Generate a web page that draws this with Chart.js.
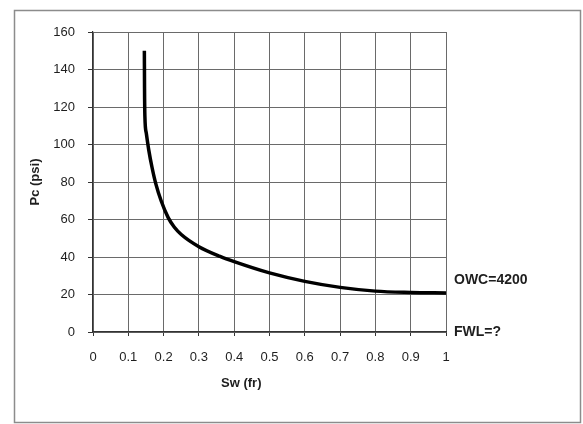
<!DOCTYPE html>
<html>
<head>
<meta charset="utf-8">
<script src="https://cdn.jsdelivr.net/npm/chart.js@4/dist/chart.umd.min.js"></script>
<style>
    html, body { margin: 0; padding: 0; background: #ffffff; }
    #wrap { width: 583px; height: 424px; }
</style>
</head>
<body>
<div id="wrap"><canvas id="pcChart" width="583" height="424"></canvas></div>
<script>
// Capillary pressure curve, Pc vs Sw

const swValues = [0.1455, 0.146, 0.147, 0.151, 0.158, 0.167, 0.178, 0.193, 0.213, 0.23, 0.25,
    0.30, 0.36, 0.40, 0.50, 0.60, 0.70, 0.80, 0.90, 1.00];
const pcValues = [150, 130, 115, 106, 97, 88, 79, 70, 61, 56, 52,
    45.5, 40.3, 37.5, 31.5, 27, 23.8, 21.8, 21.1, 20.8];

const xTickLabels = ['0', '0.1', '0.2', '0.3', '0.4', '0.5', '0.6', '0.7', '0.8', '0.9', '1'];
const yTickLabels = ['0', '20', '40', '60', '80', '100', '120', '140', '160'];

const sideLabels = ['OWC=4200', 'FWL=?'];
const sideLabelValues = [27.5, 0];

const FONT = "'Liberation Sans', Arial, sans-serif";
const GRID_COLOR = '#6a6a6a';
const TEXT_COLOR = '#1e1e1e';

const framePlugin = {
    id: 'frame',
    beforeDraw(chart) {
        const ctx = chart.ctx;
        ctx.save();
        ctx.fillStyle = '#ffffff';
        ctx.fillRect(0, 0, chart.width, chart.height);
        ctx.strokeStyle = '#8c8c8c';
        ctx.lineWidth = 1.5;
        ctx.strokeRect(14.5, 10.5, 566, 412);
        ctx.restore();
    },
    afterDraw(chart) {
        const ctx = chart.ctx;
        const area = chart.chartArea;
        const yScale = chart.scales.y;
        const xScale = chart.scales.x;
        ctx.save();
        ctx.fillStyle = TEXT_COLOR;
        ctx.font = 'bold 14px ' + FONT;
        ctx.textAlign = 'left';
        ctx.textBaseline = 'middle';
        sideLabels.forEach((txt, i) => {
            ctx.fillText(txt, area.right + 8, yScale.getPixelForValue(sideLabelValues[i]));
        });
        // x axis title sits a bit left of centre in the original
        ctx.font = 'bold 13px ' + FONT;
        ctx.textAlign = 'center';
        ctx.fillText('Sw (fr)', xScale.getPixelForValue(0.42), area.bottom + 51);
        ctx.restore();
    }
};

function createPcChart() {
    const ctx = document.getElementById('pcChart');
    if (!ctx) return;

    new Chart(ctx.getContext('2d'), {
        type: 'line',
        data: {
            datasets: [{
                label: 'Pc',
                data: swValues.map((sw, i) => ({ x: sw, y: pcValues[i] })),
                borderColor: '#000000',
                borderWidth: 3.5,
                pointRadius: 0,
                fill: false,
                cubicInterpolationMode: 'monotone'
            }]
        },
        options: {
            responsive: false,
            animation: false,
            devicePixelRatio: 1,
            layout: {
                padding: { left: 0, top: 32, right: 137, bottom: 0 }
            },
            plugins: {
                legend: { display: false },
                tooltip: { enabled: false }
            },
            scales: {
                x: {
                    type: 'linear',
                    min: 0,
                    max: 1,
                    afterFit(scale) { scale.height = 92; },
                    border: { color: '#333333', width: 1.2 },
                    grid: {
                        color: GRID_COLOR,
                        lineWidth: 1,
                        drawTicks: true,
                        tickLength: 4,
                        tickColor: '#333333'
                    },
                    ticks: {
                        stepSize: 0.1,
                        padding: 14,
                        maxRotation: 0,
                        autoSkip: false,
                        color: TEXT_COLOR,
                        font: { family: FONT, size: 13 },
                        callback: function(value, index) {
                            return xTickLabels[index];
                        }
                    }
                },
                y: {
                    min: 0,
                    max: 160,
                    afterFit(scale) { scale.width = 93; },
                    border: { color: '#333333', width: 1.2 },
                    grid: {
                        color: GRID_COLOR,
                        lineWidth: 1,
                        drawTicks: true,
                        tickLength: 5,
                        tickColor: '#333333'
                    },
                    title: {
                        display: true,
                        text: 'Pc (psi)',
                        color: TEXT_COLOR,
                        font: { family: FONT, size: 13, weight: 'bold' },
                        padding: { top: 28, bottom: 0 }
                    },
                    ticks: {
                        stepSize: 20,
                        padding: 13,
                        color: TEXT_COLOR,
                        font: { family: FONT, size: 13 },
                        callback: function(value, index) {
                            return yTickLabels[index];
                        }
                    }
                }
            }
        },
        plugins: [framePlugin]
    });
}

createPcChart();
</script>
</body>
</html>
